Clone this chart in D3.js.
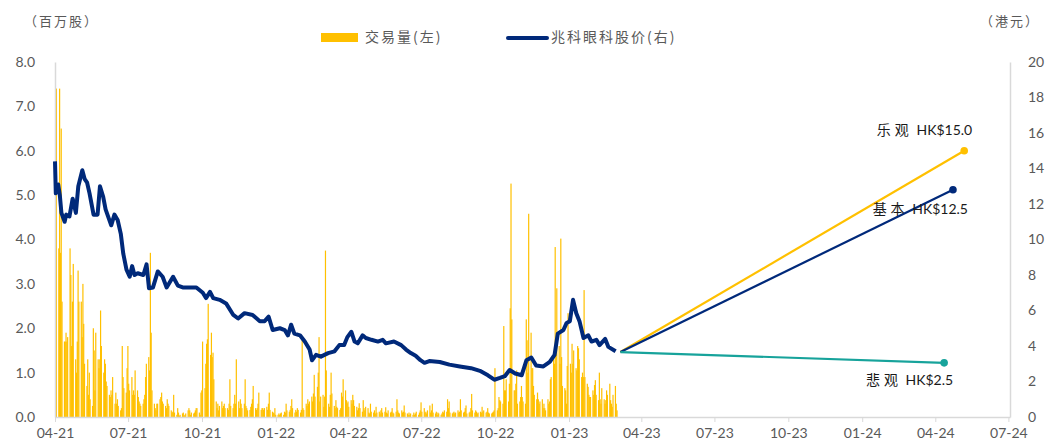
<!DOCTYPE html>
<html>
<head>
<meta charset="utf-8">
<script src="https://cdn.jsdelivr.net/npm/d3@7"></script>
<style>
  body { margin: 0; background: #fff; }
  svg { display: block; }
  .axis text { font-family: Lato, "Noto Sans CJK SC", sans-serif; font-size: 14px; fill: #595959; }
  .axis path, .axis line { stroke: #d9d9d9; }
</style>
</head>
<body>
<div id="chart"></div>
<script>
// x-axis tick dates (labels shown as mm-yy)
const xTickDates = ["2021-04-29","2021-07-29","2021-10-29","2022-01-29","2022-04-29","2022-07-29",
  "2022-10-29","2023-01-29","2023-04-29","2023-07-29","2023-10-29","2024-01-29","2024-04-29","2024-07-29"];
const leftTicks = [0, 1, 2, 3, 4, 5, 6, 7, 8];
const rightTicks = [0, 2, 4, 6, 8, 10, 12, 14, 16, 18, 20];

// daily volume (millions of shares), one value per trading day from 2021-04-29
const volume = [
  7.4,7.4,3.8,7.4,3.7,6.5,2.6,1.7,1.7,1.9,1.7,1.8,3.8,3.2,1.6,2.6,3.45,1.3,1.0,1.7,
  3.3,2.6,2.6,1.8,3.0,2.1,1.2,0.7,1.3,0.5,1.0,0.4,0.25,2.0,1.5,0.6,1.9,1.3,1.1,1.3,
  2.4,1.6,1.0,1.3,1.2,0.8,0.7,0.5,0.45,0.6,0.5,0.9,0.3,0.55,0.3,0.4,0.25,0.15,0.2,1.6,
  0.9,0.65,0.55,1.1,1.6,0.75,0.6,0.9,0.5,0.6,0.5,1.05,0.6,0.45,0.35,0.3,0.25,0.3,0.4,0.5,
  0.9,1.2,1.35,1.05,3.7,1.9,0.6,0.3,0.2,0.15,0.3,0.3,0.4,0.45,0.55,0.35,0.3,0.25,0.2,0.4,
  0.3,0.25,0.15,0.1,0.12,0.5,0.1,0.05,0.2,0.1,0.03,0.05,0.08,0.1,0.03,0.05,0.08,0.15,0.2,0.15,
  0.05,0.1,0.08,0.1,0.15,0.2,0.2,0.1,0.05,0.55,0.6,1.7,0.65,1.2,1.65,1.75,2.55,1.4,1.9,1.35,
  1.45,0.85,0.35,0.2,0.3,0.15,0.25,0.35,0.2,0.25,0.3,0.2,0.2,0.16,0.3,0.85,0.25,0.2,0.3,0.5,
  0.3,1.3,0.35,0.2,0.4,0.3,0.2,0.3,0.85,0.25,0.2,0.15,0.16,0.23,0.3,0.4,0.7,0.2,0.16,0.2,
  0.3,0.55,0.16,0.2,0.2,0.16,0.2,0.23,0.16,0.3,0.55,0.16,0.12,0.1,0.08,0.2,0.05,0.05,0.08,0.05,
  0.08,0.1,0.05,0.12,0.1,0.3,0.15,0.12,0.16,0.25,0.4,0.2,0.1,0.16,0.12,0.2,0.16,0.1,0.16,1.8,
  0.2,0.16,0.3,0.25,0.4,0.3,0.35,0.46,0.35,0.53,0.95,0.46,0.68,1.0,1.8,0.35,0.46,0.5,0.23,0.46,
  3.75,1.05,0.3,0.23,0.5,1.0,0.53,0.25,0.2,0.38,0.23,0.2,0.16,0.2,0.55,0.46,0.85,0.6,0.38,0.31,
  0.35,0.23,0.38,0.3,0.5,0.38,0.25,0.23,0.15,0.2,0.31,0.2,0.12,0.38,0.2,0.15,0.23,0.2,0.1,0.08,
  0.3,0.12,0.1,0.15,0.08,0.23,0.1,0.12,0.08,0.15,0.2,0.1,0.12,0.22,0.1,0.08,0.15,0.1,0.12,0.2,
  0.1,0.08,0.12,0.4,0.15,0.1,0.08,0.15,0.1,0.12,0.26,0.1,0.08,0.05,0.1,0.05,0.08,0.05,0.1,0.05,
  0.08,0.12,0.05,0.1,0.15,0.33,0.12,0.2,0.1,0.12,0.08,0.15,0.26,0.1,0.15,0.3,0.1,0.08,0.12,0.05,
  0.1,0.08,0.05,0.08,0.12,0.1,0.15,0.12,0.4,0.2,0.35,0.1,0.08,0.1,0.12,0.08,0.1,0.15,0.1,0.12,
  0.4,0.15,0.1,0.12,0.2,0.26,0.08,0.1,0.12,0.2,0.52,0.15,0.1,0.15,0.12,0.08,0.1,0.12,0.1,0.23,
  0.12,0.15,0.1,0.12,0.2,0.1,0.08,0.08,0.1,0.12,0.15,1.1,0.15,0.2,0.45,0.38,0.35,0.3,2.05,0.6,
  0.6,0.85,0.35,0.75,2.45,5.26,2.2,0.6,0.6,0.75,1.05,0.3,0.35,0.45,0.7,0.45,0.35,0.3,2.2,1.73,
  1.0,4.58,1.9,1.1,1.1,0.7,0.5,0.4,0.55,0.4,0.3,0.35,0.4,0.2,0.3,0.2,0.15,0.4,0.3,0.35,
  0.85,0.9,1.3,1.2,3.83,1.6,2.9,1.6,1.2,4.02,1.35,0.7,0.65,0.6,0.3,1.15,2.34,1.2,1.0,1.65,
  1.2,1.5,1.1,1.05,1.6,1.55,1.3,0.9,1.0,0.9,2.86,0.9,0.75,0.68,0.5,0.45,0.45,0.6,0.5,0.72,
  0.83,0.5,0.38,1.0,0.4,0.3,0.65,0.4,0.3,0.38,0.6,0.5,0.75,0.38,0.3,0.23,0.5,0.7,0.3,0.15
];

// share price (HK$)
const priceDates = [
  "2021-04-29","2021-04-30","2021-05-03","2021-05-05","2021-05-07","2021-05-11","2021-05-13","2021-05-17",
  "2021-05-21","2021-05-25","2021-05-28","2021-06-02","2021-06-05","2021-06-08","2021-06-11","2021-06-16",
  "2021-06-21","2021-06-24","2021-06-28","2021-07-01","2021-07-08","2021-07-12","2021-07-16","2021-07-20",
  "2021-07-23","2021-07-27","2021-07-31","2021-08-03","2021-08-06","2021-08-10","2021-08-17","2021-08-21",
  "2021-08-24","2021-08-29","2021-09-04","2021-09-10","2021-09-15","2021-09-23","2021-09-29","2021-10-05",
  "2021-10-16","2021-10-22","2021-10-30","2021-11-03","2021-11-08","2021-11-12","2021-11-20","2021-11-28",
  "2021-12-07","2021-12-13","2021-12-21","2021-12-31","2022-01-09","2022-01-15","2022-01-20","2022-01-25",
  "2022-02-03","2022-02-09","2022-02-13","2022-02-17","2022-02-21","2022-02-28","2022-03-06","2022-03-12",
  "2022-03-15","2022-03-20","2022-03-26","2022-04-04","2022-04-12","2022-04-18","2022-04-24","2022-04-28",
  "2022-05-03","2022-05-07","2022-05-11","2022-05-17","2022-05-21","2022-05-28","2022-06-05","2022-06-11",
  "2022-06-15","2022-06-25","2022-07-04","2022-07-10","2022-07-16","2022-07-22","2022-07-28","2022-08-02",
  "2022-08-08","2022-08-21","2022-09-02","2022-09-15","2022-09-29","2022-10-10","2022-10-20","2022-10-28",
  "2022-11-04","2022-11-10","2022-11-16","2022-11-23","2022-12-01","2022-12-07","2022-12-13","2022-12-19",
  "2022-12-28","2023-01-05","2023-01-11","2023-01-15","2023-01-22","2023-01-26","2023-01-30","2023-02-03",
  "2023-02-07","2023-02-11","2023-02-16","2023-02-22","2023-02-26","2023-03-04","2023-03-08","2023-03-15",
  "2023-03-19","2023-03-28"
];
const priceValues = [
  14.4,12.6,13.1,12.5,11.5,11.0,11.4,11.3,
  12.3,11.5,13.0,13.9,13.4,13.2,12.6,11.4,
  11.4,13.0,12.4,11.7,10.8,11.4,11.1,10.3,
  9.2,8.3,7.9,8.5,8.0,8.1,8.0,8.6,
  7.25,7.3,8.2,7.9,7.3,7.9,7.4,7.3,
  7.3,7.3,7.0,6.7,7.05,6.7,6.6,6.4,
  5.75,5.55,5.85,5.75,5.4,5.4,5.65,4.9,
  5.0,4.9,4.6,5.2,4.7,4.6,4.25,3.8,
  3.2,3.5,3.4,3.6,3.7,4.05,4.05,4.5,
  4.8,4.25,4.15,4.6,4.45,4.35,4.25,4.35,
  4.15,4.25,4.05,3.8,3.6,3.45,3.2,3.05,
  3.15,3.1,2.95,2.85,2.75,2.6,2.35,2.1,
  2.2,2.3,2.65,2.45,2.35,3.2,3.35,2.9,
  2.85,3.1,3.5,4.7,4.9,5.3,5.4,6.6,
  5.85,5.4,4.45,4.6,4.25,4.35,4.05,4.4,
  3.95,3.7
];

// target price scenarios
const scenarioStart = { date: "2023-04-03", value: 3.66 };
const scenarioCN = ["乐观", "基本", "悲观"];
const scenarioPrices = ["HK$15.0", "HK$12.5", "HK$2.5"];
const scenarioEndDates = ["2024-06-04", "2024-05-21", "2024-05-10"];
const scenarioEndValues = [15.0, 12.8, 3.05];
const scenarioColors = ["#FFC000", "#00297A", "#17A39B"];

const width = 1046, height = 445;
const margin = { top: 62, right: 36, bottom: 28, left: 55 };
const parse = d3.timeParse("%Y-%m-%d");

const svg = d3.select("#chart").append("svg")
    .attr("width", width)
    .attr("height", height);

const x = d3.scaleTime()
    .domain([parse("2021-04-29"), parse("2024-07-31")])
    .range([margin.left, width - margin.right]);
const yL = d3.scaleLinear().domain([0, 8]).range([height - margin.bottom, margin.top]);
const yR = d3.scaleLinear().domain([0, 20]).range([height - margin.bottom, margin.top]);

// trading days for the volume bars
const days = d3.timeDay.range(parse("2021-04-29"), parse("2023-06-01"))
    .filter(d => d.getDay() !== 0 && d.getDay() !== 6)
    .slice(0, volume.length);

svg.append("g")
  .selectAll("rect")
  .data(volume)
  .join("rect")
    .attr("x", (d, i) => x(days[i]))
    .attr("y", d => yL(d))
    .attr("width", 1.2)
    .attr("height", d => yL(0) - yL(d))
    .attr("fill", "#FFC000");

// axes
const xAxis = d3.axisBottom(x)
    .tickValues(xTickDates.map(parse))
    .tickFormat(d3.timeFormat("%m-%y"))
    .tickSize(5)
    .tickSizeOuter(0)
    .tickPadding(6);
svg.append("g")
    .attr("class", "axis")
    .attr("transform", `translate(0,${height - margin.bottom})`)
    .call(xAxis)
    .call(g => g.select(".domain").attr("stroke-width", 1.5));

svg.append("g")
    .attr("class", "axis")
    .attr("transform", `translate(${margin.left},0)`)
    .call(d3.axisLeft(yL).tickValues(leftTicks).tickFormat(d3.format(".1f")).tickSize(0).tickPadding(20))
    .call(g => g.select(".domain").attr("stroke-width", 1.5));

svg.append("g")
    .attr("class", "axis")
    .attr("transform", `translate(${width - margin.right},0)`)
    .call(d3.axisRight(yR).tickValues(rightTicks).tickSize(0).tickPadding(18))
    .call(g => g.select(".domain").attr("stroke-width", 1.5));

// price line
const line = d3.line()
    .x(d => x(d[0]))
    .y(d => yR(d[1]));
svg.append("path")
    .datum(priceDates.map((d, i) => [parse(d), priceValues[i]]))
    .attr("fill", "none")
    .attr("stroke", "#00297A")
    .attr("stroke-width", 4)
    .attr("stroke-linejoin", "round")
    .attr("d", line);

// scenario lines
const labelOffset = [[8, -20], [15, 20], [9, 18]];

scenarioCN.forEach((cn, i) => {
  const pts = [[parse(scenarioStart.date), scenarioStart.value], [parse(scenarioEndDates[i]), scenarioEndValues[i]]];
  svg.append("path")
      .datum(pts)
      .attr("fill", "none")
      .attr("stroke", scenarioColors[i])
      .attr("stroke-width", 2.2)
      .attr("d", line);
  const end = pts[1];
  svg.append("circle")
      .attr("cx", x(end[0]))
      .attr("cy", yR(end[1]))
      .attr("r", 3.8)
      .attr("fill", scenarioColors[i]);
  const t = svg.append("text")
      .attr("x", x(end[0]) + labelOffset[i][0])
      .attr("y", yR(end[1]) + labelOffset[i][1])
      .attr("text-anchor", "end")
      .attr("dominant-baseline", "middle")
      .style("font-family", "Lato, 'Noto Sans CJK SC', sans-serif")
      .style("font-size", "14px")
      .attr("fill", "#1a1a1a");
  t.append("tspan").attr("letter-spacing", 4).text(cn);
  t.append("tspan").text(" " + scenarioPrices[i]);
});

// unit labels
svg.append("text")
    .attr("x", 24).attr("y", 22)
    .attr("dominant-baseline", "middle")
    .style("font-family", "'Noto Sans CJK SC', sans-serif")
    .style("font-size", "13px")
    .attr("fill", "#595959")
    .attr("letter-spacing", 2)
    .text("（百万股）");
svg.append("text")
    .attr("x", 980).attr("y", 22)
    .attr("dominant-baseline", "middle")
    .style("font-family", "'Noto Sans CJK SC', sans-serif")
    .style("font-size", "13px")
    .attr("fill", "#595959")
    .attr("letter-spacing", 2)
    .text("（港元）");

// legend
const legend = svg.append("g")
    .style("font-family", "'Noto Sans CJK SC', sans-serif")
    .style("font-size", "14px")
    .attr("fill", "#595959");
legend.append("rect")
    .attr("x", 321).attr("y", 33).attr("width", 37).attr("height", 9)
    .attr("fill", "#FFC000");
legend.append("text")
    .attr("x", 365).attr("y", 38)
    .attr("dominant-baseline", "middle")
    .attr("letter-spacing", 2)
    .text("交易量(左)");
legend.append("line")
    .attr("x1", 508).attr("x2", 547).attr("y1", 38).attr("y2", 38)
    .attr("stroke", "#00297A").attr("stroke-width", 4).attr("stroke-linecap", "round");
legend.append("text")
    .attr("x", 551).attr("y", 38)
    .attr("dominant-baseline", "middle")
    .attr("letter-spacing", 2)
    .text("兆科眼科股价(右)");
</script>
</body>
</html>
